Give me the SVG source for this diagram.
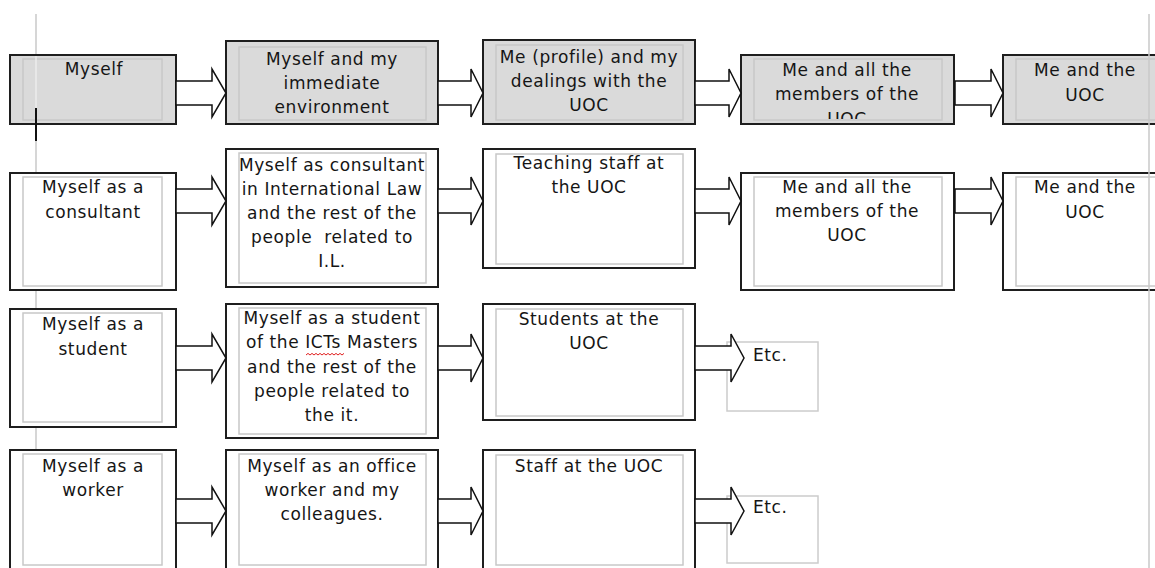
<svg xmlns="http://www.w3.org/2000/svg" width="1155" height="568" viewBox="0 0 1155 568">
<style>
.box{fill:#ffffff;stroke:#1e1e1e;stroke-width:2}
.gray{fill:#dadada}
.inner{fill:none;stroke:#c8c8c8;stroke-width:1.5}
.etc{fill:#ffffff;stroke:#cccccc;stroke-width:1.5}
text{font-family:"DejaVu Sans","Liberation Sans",sans-serif;font-size:17px;letter-spacing:0.6px;fill:#151515}
.c{text-anchor:middle}
.arrow{fill:#ffffff;stroke:#111111;stroke-width:1.5;stroke-linejoin:miter}
.margin{stroke:#c8c8c8;stroke-width:1.5}
</style>
<defs>
<clipPath id="clipA4"><rect x="741" y="55" width="213" height="64"/></clipPath>
</defs>
<rect width="1155" height="568" fill="#ffffff"/>
<line class="margin" x1="36" y1="14" x2="36" y2="568"/>

<g id="nodes">
<g id="A1"><rect class="box gray" x="10" y="55" width="166" height="69"/><rect class="inner" x="23" y="59" width="139" height="61"/><line x1="36" y1="56" x2="36" y2="123" stroke="#ececec" stroke-width="1.5"/><text class="c" x="94" y="75">Myself</text></g>
<g id="A2"><rect class="box gray" x="226" y="41" width="212" height="83"/><rect class="inner" x="239" y="47" width="187" height="73"/><text class="c" x="332" y="65">Myself and my</text><text class="c" x="332" y="89">immediate</text><text class="c" x="332" y="113">environment</text></g>
<g id="A3"><rect class="box gray" x="483" y="40" width="212" height="84"/><rect class="inner" x="496" y="45" width="187" height="75"/><text class="c" x="589" y="63">Me (profile) and my</text><text class="c" x="589" y="87">dealings with the</text><text class="c" x="589" y="111">UOC</text></g>
<g id="A4"><rect class="box gray" x="741" y="55" width="213" height="69"/><rect class="inner" x="754" y="59" width="188" height="61"/><g clip-path="url(#clipA4)"><text class="c" x="847" y="76">Me and all the</text><text class="c" x="847" y="100">members of the</text><text class="c" x="847" y="125">UOC</text></g></g>
<g id="A5"><rect class="box gray" x="1003" y="55" width="170" height="69"/><rect class="inner" x="1016" y="59" width="150" height="61"/><text class="c" x="1085" y="76">Me and the</text><text class="c" x="1085" y="101">UOC</text></g>

<g id="B1"><rect class="box" x="10" y="173" width="166" height="117"/><rect class="inner" x="23" y="177" width="139" height="109"/><text class="c" x="93" y="193">Myself as a</text><text class="c" x="93" y="218">consultant</text></g>
<g id="B2"><rect class="box" x="226" y="149" width="212" height="138"/><rect class="inner" x="239" y="153" width="187" height="130"/><text class="c" x="332" y="171">Myself as consultant</text><text class="c" x="332" y="195">in International Law</text><text class="c" x="332" y="219">and the rest of the</text><text class="c" x="332" y="243" xml:space="preserve">people  related to</text><text class="c" x="332" y="267">I.L.</text></g>
<g id="B3"><rect class="box" x="483" y="149" width="212" height="119"/><rect class="inner" x="496" y="154" width="187" height="110"/><text class="c" x="589" y="169">Teaching staff at</text><text class="c" x="589" y="193">the UOC</text></g>
<g id="B4"><rect class="box" x="741" y="173" width="213" height="117"/><rect class="inner" x="754" y="177" width="188" height="109"/><text class="c" x="847" y="193">Me and all the</text><text class="c" x="847" y="217">members of the</text><text class="c" x="847" y="241">UOC</text></g>
<g id="B5"><rect class="box" x="1003" y="173" width="170" height="117"/><rect class="inner" x="1016" y="177" width="150" height="109"/><text class="c" x="1085" y="193">Me and the</text><text class="c" x="1085" y="218">UOC</text></g>

<g id="C1"><rect class="box" x="10" y="309" width="166" height="118"/><rect class="inner" x="23" y="313" width="139" height="109"/><text class="c" x="93" y="330">Myself as a</text><text class="c" x="93" y="355">student</text></g>
<g id="C2"><rect class="box" x="226" y="304" width="212" height="134"/><rect class="inner" x="239" y="308" width="187" height="126"/><text class="c" x="332" y="324">Myself as a student</text><text class="c" x="332" y="348">of the ICTs Masters</text><text class="c" x="332" y="373">and the rest of the</text><text class="c" x="332" y="397">people related to</text><text class="c" x="332" y="421">the it.</text><path d="M306 355 l2 -1.6 l2 1.6 l2 -1.6 l2 1.6 l2 -1.6 l2 1.6 l2 -1.6 l2 1.6 l2 -1.6 l2 1.6 l2 -1.6 l2 1.6 l2 -1.6 l2 1.6 l2 -1.6 l2 1.6 l2 -1.6 l2 1.6 l2 -1.6" fill="none" stroke="#e02020" stroke-width="1"/></g>
<g id="C3"><rect class="box" x="483" y="304" width="212" height="116"/><rect class="inner" x="496" y="309" width="187" height="107"/><text class="c" x="589" y="325">Students at the</text><text class="c" x="589" y="349">UOC</text></g>
<g id="C4"><rect class="etc" x="727" y="342" width="91" height="69"/><text x="753" y="361">Etc.</text></g>

<g id="D1"><rect class="box" x="10" y="450" width="166" height="130"/><rect class="inner" x="23" y="454" width="139" height="111"/><text class="c" x="93" y="472">Myself as a</text><text class="c" x="93" y="496">worker</text></g>
<g id="D2"><rect class="box" x="226" y="450" width="212" height="130"/><rect class="inner" x="239" y="454" width="187" height="111"/><text class="c" x="332" y="472">Myself as an office</text><text class="c" x="332" y="496">worker and my</text><text class="c" x="332" y="520">colleagues.</text></g>
<g id="D3"><rect class="box" x="483" y="450" width="212" height="130"/><rect class="inner" x="496" y="455" width="187" height="110"/><text class="c" x="589" y="472">Staff at the UOC</text></g>
<g id="D4"><rect class="etc" x="727" y="496" width="91" height="67"/><text x="753" y="513">Etc.</text></g>
</g>

<g id="connectors">
<polygon class="arrow" points="176,81 212,81 212,69 226,93 212,117 212,105 176,105"/>
<polygon class="arrow" points="438,81 471,81 471,69 483,93 471,117 471,105 438,105"/>
<polygon class="arrow" points="695,81 729,81 729,69 741,93 729,117 729,105 695,105"/>
<polygon class="arrow" points="955,81 991,81 991,69 1003,93 991,117 991,105 955,105"/>

<polygon class="arrow" points="176,189 212,189 212,177 226,201 212,225 212,213 176,213"/>
<polygon class="arrow" points="438,189 471,189 471,177 483,201 471,225 471,213 438,213"/>
<polygon class="arrow" points="695,189 729,189 729,177 741,201 729,225 729,213 695,213"/>
<polygon class="arrow" points="955,189 991,189 991,177 1003,201 991,225 991,213 955,213"/>

<polygon class="arrow" points="176,346 212,346 212,334 226,358 212,382 212,370 176,370"/>
<polygon class="arrow" points="438,346 471,346 471,334 483,358 471,382 471,370 438,370"/>
<polygon class="arrow" points="695,346 731,346 731,334 744,358 731,382 731,370 695,370"/>

<polygon class="arrow" points="176,499 212,499 212,487 226,511 212,535 212,523 176,523"/>
<polygon class="arrow" points="438,499 471,499 471,487 483,511 471,535 471,523 438,523"/>
<polygon class="arrow" points="695,499 731,499 731,487 744,511 731,535 731,523 695,523"/>
</g>

<line class="margin" x1="1149" y1="14" x2="1149" y2="568"/>
<line x1="36" y1="108" x2="36" y2="141" stroke="#111111" stroke-width="2"/>
</svg>
